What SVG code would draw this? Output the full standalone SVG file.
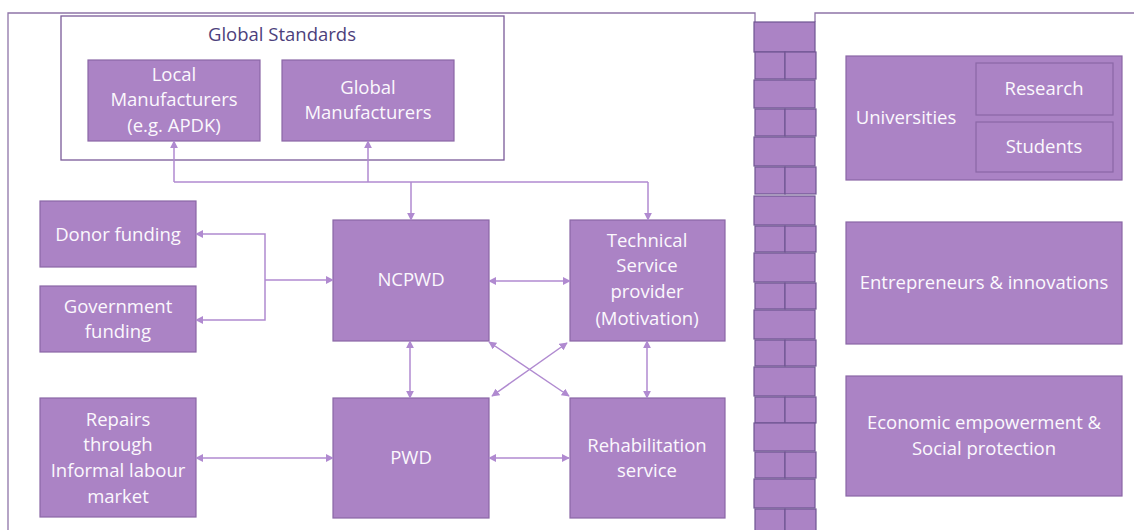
<svg xmlns="http://www.w3.org/2000/svg" width="1134" height="530" viewBox="0 0 1134 530">
<defs>
<style>
.box{fill:#ab83c5;stroke:#8a67a6;stroke-width:1.2}
.brick{fill:#ab83c5;stroke:#6f5592;stroke-width:1.2}
.frame{fill:none;stroke:#8f74a8;stroke-width:1.3}
.t{font-family:"Open Sans","Liberation Sans",Arial,sans-serif;font-size:18.5px;fill:#fbf8fd;text-anchor:middle}
.title{font-family:"Open Sans","Liberation Sans",Arial,sans-serif;font-size:18.5px;fill:#4d3f7c;text-anchor:middle}
.c{fill:none;stroke:#b08ad0;stroke-width:1.5}
</style>
<marker id="ah" viewBox="0 0 10 10" refX="9" refY="5" markerWidth="8" markerHeight="8" markerUnits="userSpaceOnUse" orient="auto-start-reverse">
<path d="M0,0 L10,5 L0,10 z" fill="#b08ad0"/>
</marker>
</defs>

<g id="frames">
<path class="frame" d="M8,530 V13 H755 V22"/>
<path class="frame" d="M815,22 V13 H1134"/>
</g>

<g id="wall">
<rect class="brick" x="754" y="22" width="61" height="30"/>
<rect class="brick" x="755" y="52" width="30" height="27"/><rect class="brick" x="785" y="52" width="31" height="27"/>
<rect class="brick" x="754" y="80" width="61" height="28"/>
<rect class="brick" x="755" y="109" width="30" height="27"/><rect class="brick" x="785" y="109" width="31" height="27"/>
<rect class="brick" x="754" y="137" width="61" height="29"/>
<rect class="brick" x="755" y="167" width="30" height="27"/><rect class="brick" x="785" y="167" width="31" height="27"/>
<rect class="brick" x="754" y="196" width="61" height="29"/>
<rect class="brick" x="755" y="226" width="30" height="26"/><rect class="brick" x="785" y="226" width="31" height="26"/>
<rect class="brick" x="754" y="253" width="61" height="29"/>
<rect class="brick" x="755" y="283" width="30" height="26"/><rect class="brick" x="785" y="283" width="31" height="26"/>
<rect class="brick" x="754" y="310" width="61" height="29"/>
<rect class="brick" x="755" y="340" width="30" height="26"/><rect class="brick" x="785" y="340" width="31" height="26"/>
<rect class="brick" x="754" y="367" width="61" height="29"/>
<rect class="brick" x="755" y="397" width="30" height="26"/><rect class="brick" x="785" y="397" width="31" height="26"/>
<rect class="brick" x="754" y="423" width="61" height="28"/>
<rect class="brick" x="755" y="452" width="30" height="26"/><rect class="brick" x="785" y="452" width="31" height="26"/>
<rect class="brick" x="754" y="479" width="61" height="29"/>
<rect class="brick" x="755" y="509" width="30" height="26"/><rect class="brick" x="785" y="509" width="31" height="26"/>
</g>

<g id="global-standards">
<rect x="61" y="16" width="443" height="144" fill="#ffffff" stroke="#7a5a99" stroke-width="1.3"/>
<text class="title" x="282" y="41">Global Standards</text>
</g>

<g id="local-manufacturers">
<rect class="box" x="88" y="60" width="172" height="81"/>
<text class="t" x="174" y="81">Local</text>
<text class="t" x="174" y="106">Manufacturers</text>
<text class="t" x="174" y="132">(e.g. APDK)</text>
</g>

<g id="global-manufacturers">
<rect class="box" x="282" y="60" width="172" height="81"/>
<text class="t" x="368" y="94">Global</text>
<text class="t" x="368" y="119">Manufacturers</text>
</g>

<g id="donor-funding">
<rect class="box" x="40" y="201" width="156" height="66"/>
<text class="t" x="118" y="241">Donor funding</text>
</g>

<g id="government-funding">
<rect class="box" x="40" y="286" width="156" height="66"/>
<text class="t" x="118" y="313">Government</text>
<text class="t" x="118" y="338">funding</text>
</g>

<g id="repairs">
<rect class="box" x="40" y="398" width="156" height="119"/>
<text class="t" x="118" y="426">Repairs</text>
<text class="t" x="118" y="451">through</text>
<text class="t" x="118" y="477">Informal labour</text>
<text class="t" x="118" y="503">market</text>
</g>

<g id="ncpwd">
<rect class="box" x="333" y="220" width="156" height="121"/>
<text class="t" x="411" y="286">NCPWD</text>
</g>

<g id="technical-service-provider">
<rect class="box" x="570" y="220" width="155" height="121"/>
<text class="t" x="647" y="247">Technical</text>
<text class="t" x="647" y="272">Service</text>
<text class="t" x="647" y="298">provider</text>
<text class="t" x="647" y="325">(Motivation)</text>
</g>

<g id="pwd">
<rect class="box" x="333" y="398" width="156" height="120"/>
<text class="t" x="411" y="464">PWD</text>
</g>

<g id="rehabilitation-service">
<rect class="box" x="570" y="398" width="155" height="120"/>
<text class="t" x="647" y="452">Rehabilitation</text>
<text class="t" x="647" y="477">service</text>
</g>

<g id="universities">
<rect class="box" x="846" y="56" width="276" height="124"/>
<text class="t" x="906" y="124">Universities</text>
<rect class="box" x="976" y="63" width="137" height="52"/>
<text class="t" x="1044" y="95">Research</text>
<rect class="box" x="976" y="122" width="137" height="50"/>
<text class="t" x="1044" y="153">Students</text>
</g>

<g id="entrepreneurs">
<rect class="box" x="846" y="222" width="276" height="122"/>
<text class="t" x="984" y="289">Entrepreneurs &amp; innovations</text>
</g>

<g id="economic-empowerment">
<rect class="box" x="846" y="376" width="276" height="120"/>
<text class="t" x="984" y="429">Economic empowerment &amp;</text>
<text class="t" x="984" y="455">Social protection</text>
</g>

<g id="connectors">
<path class="c" d="M174,182 H648"/>
<path class="c" d="M174,182 V141" marker-end="url(#ah)"/>
<path class="c" d="M368,182 V141" marker-end="url(#ah)"/>
<path class="c" d="M411,182 V220" marker-end="url(#ah)"/>
<path class="c" d="M648,182 V220" marker-end="url(#ah)"/>
<path class="c" d="M196,234 H265 V320 H196" marker-start="url(#ah)" marker-end="url(#ah)"/>
<path class="c" d="M265,280 H333" marker-end="url(#ah)"/>
<path class="c" d="M489,281 H570" marker-start="url(#ah)" marker-end="url(#ah)"/>
<path class="c" d="M410,341 V398" marker-start="url(#ah)" marker-end="url(#ah)"/>
<path class="c" d="M647,341 V398" marker-start="url(#ah)" marker-end="url(#ah)"/>
<path class="c" d="M489,342 L569,396" marker-start="url(#ah)" marker-end="url(#ah)"/>
<path class="c" d="M567,343 L492,396" marker-start="url(#ah)" marker-end="url(#ah)"/>
<path class="c" d="M196,458 H333" marker-start="url(#ah)" marker-end="url(#ah)"/>
<path class="c" d="M489,458 H569" marker-start="url(#ah)" marker-end="url(#ah)"/>
</g>
</svg>
